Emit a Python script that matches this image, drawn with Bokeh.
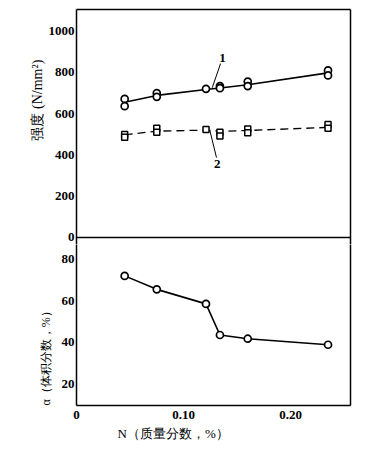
from bokeh.plotting import figure
from bokeh.layouts import column
from bokeh.models import Range1d, FixedTicker, Label, Title, LinearAxis, Span
from bokeh.embed import file_html
from bokeh.resources import INLINE

# --- data ---
n_pct = [0.045, 0.075, 0.121, 0.134, 0.160, 0.235]
# curve 1 (circles, solid line)
s1_x = [0.045, 0.045, 0.075, 0.075, 0.121, 0.134, 0.134, 0.160, 0.160, 0.235, 0.235]
s1_y = [671, 636, 699, 681, 720, 733, 723, 755, 733, 809, 785]
s1_line = [655, 688, 717, 724, 740, 797]
# curve 2 (squares, dashed line)
s2_x = [0.045, 0.045, 0.075, 0.075, 0.121, 0.134, 0.134, 0.160, 0.160, 0.235, 0.235]
s2_y = [499, 486, 529, 510, 523, 510, 491, 525, 507, 547, 529]
s2_line = [497, 515, 520, 514, 518, 533]
# alpha phase volume fraction
alpha = [72, 65.5, 58.5, 43.5, 41.7, 38.8]

top_ticks = [0, 200, 400, 600, 800, 1000]
bot_ticks = [20, 40, 60, 80]
x_ticks = [0, 0.10, 0.20]
x_tick_labels = {0: "0", 0.1: "0.10", 0.2: "0.20"}

# annotation positions (label text, text x, text y, leader from, leader to)
ann_text = ["1", "2"]
ann_tx = [0.1365, 0.1315]
ann_ty = [870, 357]
ann_x0 = [0.1346, 0.1308]
ann_y0 = [842, 387]
ann_x1 = [0.1268, 0.1246]
ann_y1 = [725, 518]

SERIF = "Liberation Serif"
LW = 1.5
xr = Range1d(0, 0.256)


def blank_axis(ax):
    ax.ticker = FixedTicker(ticks=[])
    ax.major_label_text_font_size = "0px"
    ax.axis_line_color = "black"
    ax.axis_line_width = LW
    ax.major_tick_in = 0
    ax.major_tick_out = 0
    ax.minor_tick_in = 0
    ax.minor_tick_out = 0
    ax.major_label_standoff = 0


def style(p):
    p.toolbar_location = None
    p.grid.visible = False
    p.outline_line_color = None
    p.background_fill_color = "white"
    p.border_fill_color = "white"
    for ax in p.axis:
        ax.axis_line_color = "black"
        ax.axis_line_width = LW
        ax.major_tick_in = 0
        ax.major_tick_out = 0
        ax.minor_tick_in = 0
        ax.minor_tick_out = 0
        ax.major_label_text_font = SERIF
        ax.major_label_text_font_size = "13px"
        ax.major_label_text_font_style = "bold"
        ax.major_label_text_color = "black"


# ---------------- top panel: strength ----------------
top = figure(output_backend="svg", toolbar_location=None, x_range=xr,
             y_range=Range1d(-33.9, 1104), frame_width=274, frame_height=235,
             min_border_left=76, min_border_right=10, min_border_top=9,
             min_border_bottom=0, x_axis_location=None)
style(top)
top.yaxis.ticker = FixedTicker(ticks=top_ticks)
top.yaxis.major_label_standoff = 2
ra = LinearAxis()
blank_axis(ra)
top.add_layout(ra, "right")
aa = LinearAxis()
blank_axis(aa)
top.add_layout(aa, "above")
top.add_layout(Span(location=0, dimension="width", line_color="black",
                    line_width=LW))
top.add_layout(Title(text="强度 (N/mm²)", align="left", offset=104,
                     text_font=SERIF, text_font_size="14px",
                     text_font_style="normal", text_color="black",
                     standoff=1), "left")

top.line(n_pct, s1_line, line_color="black", line_width=1.6)
top.scatter(s1_x, s1_y, marker="circle", size=7, fill_color="white",
            line_color="black", line_width=1.7)
top.line(n_pct, s2_line, line_color="black", line_width=1.3, line_dash="8 5")
top.scatter(s2_x, s2_y, marker="square", size=6, fill_color="white",
            line_color="black", line_width=1.5)
top.segment(ann_x0, ann_y0, ann_x1, ann_y1, line_color="black", line_width=1)
for t, x, y in zip(ann_text, ann_tx, ann_ty):
    top.add_layout(Label(x=x, y=y, text=t, text_font=SERIF, text_font_size="13px",
                         text_font_style="bold",
                         text_align="center", text_baseline="middle",
                         text_color="black"))

# ---------------- bottom panel: alpha fraction ----------------
bot = figure(output_backend="svg", toolbar_location=None, x_range=xr,
             y_range=Range1d(9.5, 87.13), frame_width=274, frame_height=161,
             min_border_left=76, min_border_right=10, min_border_top=0,
             min_border_bottom=4)
style(bot)
bot.yaxis.ticker = FixedTicker(ticks=bot_ticks)
bot.yaxis.major_label_standoff = 2
bot.xaxis.ticker = FixedTicker(ticks=x_ticks)
bot.xaxis.major_label_overrides = x_tick_labels
bot.xaxis.major_label_standoff = 5
rb = LinearAxis()
blank_axis(rb)
bot.add_layout(rb, "right")
bot.add_layout(Title(text="α（体积分数，%）", align="left", offset=0,
                     text_font=SERIF, text_font_size="12px",
                     text_font_style="normal", text_color="black",
                     standoff=12), "left")
bot.add_layout(Title(text="N（质量分数，%）", align="left", offset=41,
                     text_font=SERIF, text_font_size="13px",
                     text_font_style="normal", text_color="black",
                     standoff=4), "below")

bot.line(n_pct, alpha, line_color="black", line_width=1.6)
bot.scatter(n_pct, alpha, marker="circle", size=7, fill_color="white",
            line_color="black", line_width=1.7)

layout = column(top, bot, spacing=0)
open("out.html", "w").write(file_html(layout, INLINE))
